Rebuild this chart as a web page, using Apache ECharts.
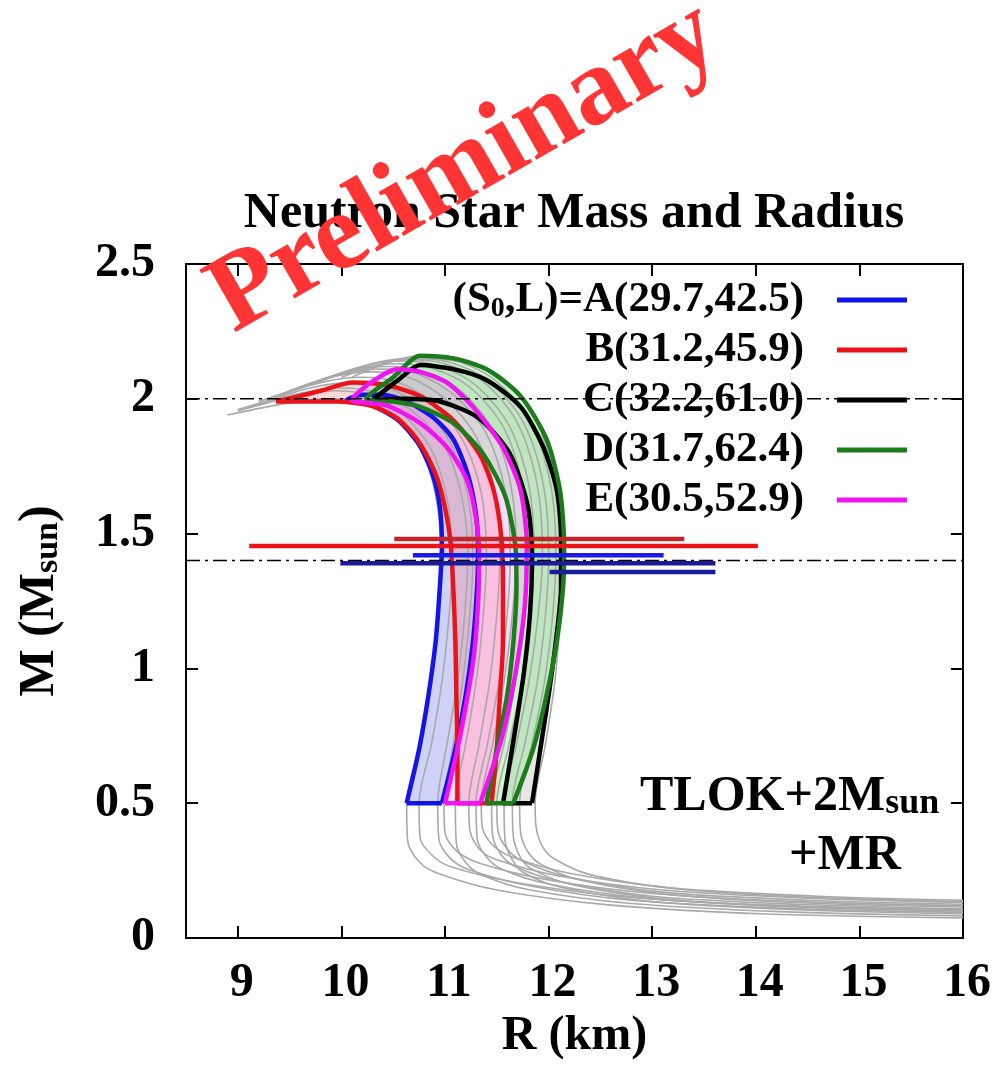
<!DOCTYPE html>
<html><head><meta charset="utf-8">
<script src="https://cdn.jsdelivr.net/npm/echarts@6/dist/echarts.min.js"></script>
<style>html,body{margin:0;padding:0;background:#fff}#c{width:1008px;height:1065px}</style>
</head><body><div id="c"></div>
<script>
// ---------------- data ----------------
const sets = ['A', 'B', 'C', 'D', 'E'];
const S0 = [29.7, 31.2, 32.2, 31.7, 30.5];
const Lval = [42.5, 45.9, 61.0, 62.4, 52.9];

// band outlines [R (km), M (Msun)] : soft branch up, over the top, stiff branch down
const bandA = [[10.63,0.5],[10.75,0.7],[10.84,0.9],[10.91,1.1],[10.95,1.3],[10.97,1.45],[10.95,1.6],[10.88,1.72],[10.75,1.83],[10.55,1.92],[10.3,1.975],[10.05,1.995],[10.2,2.015],[10.4,2.015],[10.63,1.99],[10.89,1.93],[11.08,1.85],[11.22,1.72],[11.3,1.57],[11.32,1.43],[11.31,1.3],[11.27,1.1],[11.2,0.9],[11.1,0.7],[10.97,0.5]];
const bandB = [[11.12,0.5],[11.12,0.7],[11.11,0.9],[11.1,1.1],[11.08,1.3],[11.05,1.48],[10.98,1.63],[10.9,1.73],[10.73,1.85],[10.53,1.93],[10.28,1.975],[9.95,1.99],[9.6,1.99],[9.37,1.99],[9.6,2.01],[9.8,2.03],[10.11,2.06],[10.44,2.05],[10.76,2.01],[11.08,1.92],[11.34,1.79],[11.47,1.66],[11.54,1.5],[11.56,1.3],[11.56,1.1],[11.53,0.9],[11.5,0.7],[11.45,0.5]];
const bandC = [[11.56,0.5],[11.66,0.73],[11.76,0.98],[11.82,1.2],[11.84,1.4],[11.8,1.6],[11.62,1.8],[11.32,1.93],[10.95,1.99],[10.6,2.0],[10.3,1.995],[10.55,2.07],[10.76,2.125],[11.08,2.11],[11.4,2.07],[11.73,1.97],[11.95,1.82],[12.08,1.66],[12.12,1.48],[12.12,1.3],[12.07,1.1],[12.0,0.9],[11.92,0.7],[11.84,0.5]];
const bandD = [[11.4,0.5],[11.5,0.7],[11.6,0.9],[11.66,1.1],[11.69,1.3],[11.68,1.45],[11.58,1.64],[11.36,1.8],[11.08,1.91],[10.76,1.97],[10.5,1.99],[10.24,2.0],[10.5,2.08],[10.76,2.16],[11.08,2.15],[11.4,2.11],[11.73,2.01],[11.98,1.85],[12.11,1.66],[12.15,1.45],[12.14,1.3],[12.08,1.1],[11.98,0.9],[11.85,0.7],[11.66,0.5]];
const bandE = [[11.0,0.5],[11.12,0.7],[11.21,0.88],[11.28,1.05],[11.32,1.25],[11.33,1.43],[11.28,1.6],[11.2,1.71],[11.02,1.82],[10.76,1.91],[10.44,1.975],[10.1,1.995],[10.18,2.03],[10.34,2.075],[10.53,2.11],[10.76,2.1],[11.02,2.06],[11.27,1.97],[11.56,1.82],[11.73,1.66],[11.79,1.45],[11.77,1.23],[11.68,0.98],[11.54,0.73],[11.34,0.5]];

// grey M-R curves (all accepted EOSs), from low-mass tail to unstable branch
const grey01 = [[16,0.074],[14.1,0.089],[12.6,0.122],[11.5,0.178],[10.93,0.24],[10.75,0.283],[10.64,0.36],[10.63,0.5],[10.76,0.72],[10.86,0.95],[10.93,1.2],[10.96,1.42],[10.92,1.62],[10.78,1.8],[10.5,1.93],[10.2,1.99],[9.9,2.0],[9.5,1.985],[8.9,1.94]];
const grey02 = [[16,0.095],[14.3,0.11],[12.8,0.14],[11.8,0.195],[11.22,0.255],[11.04,0.3],[10.94,0.37],[10.93,0.5],[11.02,0.72],[11.12,0.95],[11.19,1.2],[11.22,1.42],[11.16,1.64],[11.0,1.82],[10.7,1.95],[10.35,2.02],[10.0,2.04],[9.6,2.02],[9.0,1.96]];
const grey03 = [[16,0.12],[14.4,0.135],[13,0.165],[12.0,0.215],[11.35,0.275],[11.12,0.32],[11.0,0.39],[10.99,0.5],[11.08,0.72],[11.17,0.95],[11.24,1.2],[11.27,1.42],[11.22,1.64],[11.06,1.83],[10.8,1.96],[10.45,2.04],[10.1,2.06],[9.7,2.04],[9.1,1.97]];
const grey04 = [[16,0.082],[14.3,0.097],[12.8,0.128],[11.8,0.18],[11.35,0.235],[11.2,0.28],[11.11,0.35],[11.1,0.5],[11.2,0.72],[11.3,0.95],[11.37,1.2],[11.4,1.42],[11.35,1.65],[11.18,1.84],[10.9,1.98],[10.55,2.06],[10.2,2.08],[9.8,2.06],[9.2,1.99]];
const grey05 = [[16,0.132],[14.5,0.148],[13.1,0.178],[12.1,0.23],[11.5,0.29],[11.33,0.33],[11.24,0.4],[11.23,0.5],[11.33,0.72],[11.43,0.95],[11.5,1.2],[11.53,1.42],[11.48,1.66],[11.3,1.86],[11.0,2.0],[10.65,2.08],[10.3,2.1],[9.9,2.08],[9.3,2.0]];
const grey06 = [[16,0.1],[14.4,0.116],[13,0.145],[12.0,0.2],[11.55,0.255],[11.4,0.3],[11.31,0.37],[11.3,0.5],[11.41,0.72],[11.52,0.95],[11.6,1.2],[11.63,1.42],[11.58,1.66],[11.4,1.87],[11.1,2.01],[10.75,2.09],[10.4,2.11],[10.0,2.09],[9.4,2.01]];
const grey07 = [[16,0.14],[14.6,0.155],[13.2,0.185],[12.2,0.24],[11.65,0.3],[11.46,0.345],[11.36,0.41],[11.35,0.5],[11.46,0.72],[11.57,0.95],[11.65,1.2],[11.69,1.42],[11.64,1.67],[11.47,1.88],[11.15,2.03],[10.8,2.1],[10.45,2.12],[10.05,2.1],[9.5,2.03]];
const grey08 = [[16,0.108],[14.4,0.125],[13.0,0.155],[12.1,0.21],[11.68,0.265],[11.54,0.31],[11.46,0.38],[11.45,0.5],[11.57,0.72],[11.68,0.95],[11.76,1.2],[11.8,1.42],[11.75,1.67],[11.57,1.89],[11.25,2.04],[10.9,2.11],[10.55,2.13],[10.15,2.11],[9.6,2.04]];
const grey09 = [[16,0.125],[14.5,0.14],[13.1,0.17],[12.2,0.225],[11.75,0.285],[11.6,0.33],[11.51,0.4],[11.5,0.5],[11.62,0.72],[11.74,0.95],[11.82,1.2],[11.86,1.42],[11.81,1.68],[11.62,1.9],[11.3,2.05],[10.95,2.12],[10.6,2.14],[10.2,2.12],[9.7,2.05]];
const grey10 = [[16,0.09],[14.4,0.105],[13,0.135],[12.1,0.19],[11.75,0.245],[11.65,0.29],[11.58,0.36],[11.57,0.5],[11.69,0.72],[11.81,0.95],[11.9,1.2],[11.94,1.42],[11.89,1.68],[11.7,1.91],[11.38,2.06],[11.0,2.13],[10.65,2.145],[10.3,2.13],[9.8,2.07]];
const grey11 = [[16,0.115],[14.5,0.13],[13.2,0.16],[12.3,0.215],[11.92,0.275],[11.8,0.32],[11.73,0.39],[11.72,0.5],[11.84,0.72],[11.96,0.95],[12.04,1.2],[12.07,1.42],[12.02,1.68],[11.82,1.92],[11.48,2.07],[11.1,2.14],[10.72,2.15],[10.4,2.13],[10.0,2.08]];
const grey12 = [[16,0.135],[14.6,0.15],[13.3,0.18],[12.4,0.235],[12.05,0.295],[11.94,0.34],[11.88,0.41],[11.87,0.5],[11.97,0.72],[12.06,0.95],[12.11,1.2],[12.12,1.42],[12.06,1.68],[11.88,1.92],[11.55,2.08],[11.15,2.15],[10.8,2.16],[10.5,2.14],[10.1,2.08]];
const grey13 = [[16,0.105],[14.3,0.12],[12.8,0.15],[11.7,0.205],[11.05,0.265],[10.88,0.305],[10.76,0.37],[10.75,0.5],[10.87,0.72],[10.97,0.95],[11.04,1.2],[11.07,1.42],[11.02,1.63],[10.87,1.81],[10.6,1.94],[10.28,2.01],[9.95,2.03],[9.55,2.01],[9.0,1.955]];
const grey14 = [[16,0.1],[14.4,0.115],[13.1,0.145],[12.2,0.2],[11.82,0.26],[11.72,0.305],[11.66,0.375],[11.65,0.5],[11.77,0.72],[11.89,0.95],[11.97,1.2],[12.0,1.42],[11.95,1.68],[11.76,1.91],[11.43,2.065],[11.05,2.135],[10.7,2.15],[10.35,2.135],[9.9,2.08]];

// observational M-R constraints (horizontal bars)
const errMass = [1.48, 1.454, 1.42, 1.39, 1.358];
const errRmin = [10.51, 9.11, 10.69, 9.99, 12.01];
const errRmax = [13.31, 14.02, 13.11, 13.61, 13.61];

// reference masses (dash-dot lines)
const refMass = [2.0, 1.4];

// axis ranges
const xMin = 8.5, xMax = 16, yMin = 0, yMax = 2.5;

// ---------------- styles ----------------
const bands = [bandA, bandB, bandC, bandD, bandE];
const greys = [grey01, grey02, grey03, grey04, grey05, grey06, grey07, grey08, grey09, grey10, grey11, grey12, grey13, grey14];
const lineColors = ['#1414e6', '#e8141a', '#000000', '#1c7c1c', '#f014f0'];
const fillColors = ['rgba(120,130,238,0.36)', 'rgba(245,130,130,0.30)', 'rgba(160,160,160,0.26)', 'rgba(130,235,130,0.38)', 'rgba(240,130,240,0.28)'];
const errColors = ['#c0262a', '#e8141a', '#1a1ae0', '#1a1a9a', '#1a1a9a'];
const FONT = '"Liberation Serif", "Times New Roman", serif';

const series = [];
bands.forEach((band, i) => {
  series.push({
    type: 'custom', name: 'fill' + sets[i], coordinateSystem: 'cartesian2d', silent: true, z: 1,
    data: band, encode: { x: 0, y: 1 },
    renderItem: (params, api) => {
      if (params.dataIndex !== 0) return null;
      return { type: 'polygon', shape: { points: band.map(p => api.coord(p)) }, style: { fill: fillColors[i], stroke: null } };
    }
  });
});
greys.forEach((g) => {
  series.push({ type: 'line', data: g, smooth: 0.3, symbol: 'none', silent: true, z: 2,
    lineStyle: { color: '#a9a9a9', width: 1.6 } });
});
bands.forEach((band, i) => {
  series.push({ type: 'line', name: sets[i], color: lineColors[i], data: band, smooth: 0.25, symbol: 'none', z: 3,
    lineStyle: { color: lineColors[i], width: 4.5 } });
  series.push({ type: 'line', name: 'bottom' + sets[i], data: [band[0], band[band.length - 1]], symbol: 'none', z: 3,
    lineStyle: { color: lineColors[i], width: 4.5 } });
});
refMass.forEach((m) => {
  series.push({ type: 'line', data: [[xMin, m], [xMax, m]], symbol: 'none', z: 4, silent: true,
    lineStyle: { color: '#000', width: 1.5, type: [14, 5, 3, 5] } });
});
errMass.forEach((m, i) => {
  series.push({ type: 'line', data: [[errRmin[i], m], [errRmax[i], m]], symbol: 'none', z: 5, silent: true,
    lineStyle: { color: errColors[i], width: 4.5 } });
});

const legendLabel = (name) => {
  const i = sets.indexOf(name);
  const body = name + '(' + S0[i].toFixed(1) + ',' + Lval[i].toFixed(1) + ')';
  return i === 0 ? '(S{s|0},L)=' + body : body;
};

const axisCommon = {
  axisLine: { show: true, onZero: false, lineStyle: { color: '#000', width: 2 } },
  axisTick: { show: true, inside: true, length: 12, lineStyle: { color: '#000', width: 2 } },
  splitLine: { show: false }
};

const option = {
  animation: false,
  backgroundColor: '#fff',
  grid: { left: 186, right: 45, top: 264, bottom: 127, containLabel: false, outerBoundsMode: 'none' },
  xAxis: [
    Object.assign({ type: 'value', min: xMin, max: xMax, minInterval: 1, maxInterval: 1, position: 'bottom',
      axisLabel: { showMinLabel: false, margin: 22, color: '#000', fontSize: 48, fontWeight: 'bold', fontFamily: FONT,
        padding: [0, 0, 0, 8], formatter: v => (Number.isInteger(v) ? String(v) : '') },
      name: 'R (km)', nameLocation: 'middle', nameGap: 72,
      nameTextStyle: { color: '#000', fontSize: 48, fontWeight: 'bold', fontFamily: FONT } }, axisCommon),
    Object.assign({ type: 'value', min: xMin, max: xMax, minInterval: 1, maxInterval: 1, position: 'top',
      axisLabel: { show: false } }, axisCommon)
  ],
  yAxis: [
    Object.assign({ type: 'value', min: yMin, max: yMax, interval: 0.5, position: 'left',
      axisLabel: { margin: 31, color: '#000', fontSize: 48, fontWeight: 'bold', fontFamily: FONT },
      name: '{m|M (M}{s|sun}{m|)}', nameLocation: 'middle', nameRotate: 90, nameGap: 121,
      nameTextStyle: { color: '#000', fontWeight: 'bold', fontFamily: FONT, fontSize: 50,
        rich: { m: { fontSize: 50, lineHeight: 50, fontWeight: 'bold', fontFamily: FONT, color: '#000' },
                s: { fontSize: 34, lineHeight: 16, verticalAlign: 'bottom', fontWeight: 'bold', fontFamily: FONT, color: '#000' } } } }, axisCommon),
    Object.assign({ type: 'value', min: yMin, max: yMax, interval: 0.5, position: 'right',
      axisLabel: { show: false } }, axisCommon)
  ],
  legend: {
    show: true, orient: 'vertical', right: 101, top: 277, padding: 0, itemGap: 4,
    align: 'right', itemWidth: 70, itemHeight: 5, selectedMode: false,
    data: sets.map((n, i) => ({ name: n, icon: 'rect', itemStyle: { color: lineColors[i] } })),
    formatter: legendLabel,
    textStyle: { color: '#000', fontSize: 43, lineHeight: 46, fontWeight: 'bold', fontFamily: FONT, padding: [0, 28, 0, 0],
      rich: { s: { fontSize: 28, lineHeight: 14, verticalAlign: 'bottom', fontWeight: 'bold', fontFamily: FONT, color: '#000' } } }
  },
  graphic: [
    { type: 'text', x: 574, y: 214, z: 50,
      style: { text: 'Neutron Star Mass and Radius', fill: '#000', font: 'bold 50px ' + FONT, align: 'center', verticalAlign: 'middle' } },
    { type: 'text', x: 640, y: 797, z: 50,
      style: { text: 'TLOK+2M{s|sun}', fill: '#000', font: 'bold 50px ' + FONT, align: 'left', verticalAlign: 'middle',
        rich: { s: { fontSize: 36, lineHeight: 16, verticalAlign: 'bottom', fontWeight: 'bold', fontFamily: FONT, fill: '#000' } } } },
    { type: 'text', x: 789, y: 856, z: 50,
      style: { text: '+MR', fill: '#000', font: 'bold 50px ' + FONT, align: 'left', verticalAlign: 'middle' } },
    { type: 'text', x: 465, y: 168, z: 100, rotation: 0.52,
      style: { text: 'Preliminary', fill: '#ff3535', font: 'bold 110px ' + FONT, align: 'center', verticalAlign: 'middle' } }
  ],
  series: series
};

const chart = echarts.init(document.getElementById('c'), null, { renderer: 'canvas' });
chart.setOption(option);
</script></body></html>
